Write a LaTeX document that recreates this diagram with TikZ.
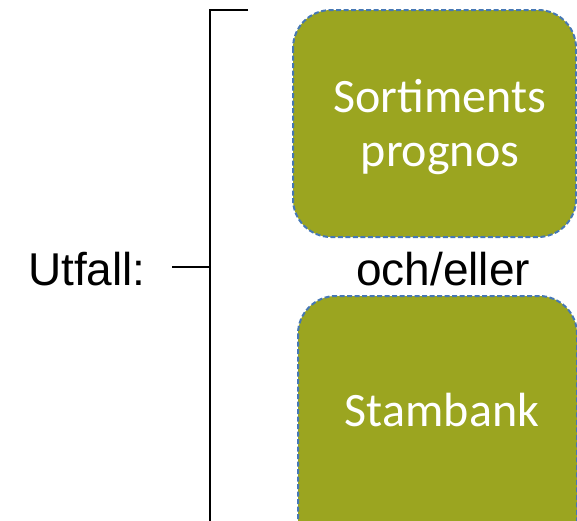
\documentclass[tikz,border=0pt]{standalone}
\usepackage{fontspec}
\setmainfont{Liberation Sans}
\newfontfamily\boxfont{Carlito}
\definecolor{olive}{RGB}{155,165,32}
\definecolor{edgeblue}{RGB}{70,120,180}
\begin{document}
\begin{tikzpicture}[x=1pt,y=-1pt,
  greenbox/.style={draw=edgeblue, fill=olive, line width=2pt,
    dash pattern=on 5pt off 2.5pt, rounded corners=38pt},
  boxtext/.style={font=\boxfont\fontsize{48}{58}\selectfont, text=white,
    align=center, inner sep=0pt},
  plain/.style={font=\fontsize{46}{55}\selectfont, inner sep=0pt},
  bracket/.style={draw=black, line width=1.2pt}]
\useasboundingbox (0,0) rectangle (577,520);
\clip (0,0) rectangle (577,520);
% bracket
\coordinate (btop) at (210,10);
\coordinate (btopr) at (248,10);
\coordinate (bbot) at (210,522);
\coordinate (bmid) at (210,267);
\coordinate (tick) at (172,267);
\draw[bracket] (btopr) -- (btop) -- (bbot);
\draw[bracket] (tick) -- (bmid);
% boxes
\draw[greenbox] (293,10) rectangle (576,237);
\draw[greenbox] (298,296) rectangle (577,560);
% labels
\node[boxtext, anchor=base] (sp) at (440,112) {Sortiments};
\node[boxtext, anchor=base] (sp2) at (440,166) {prognos};
\node[boxtext, anchor=base] (sb) at (442,426) {Stambank};
\node[plain, anchor=base west] (utf) at (28,285) {Utfall:};
\node[plain, anchor=base] (oe) at (443,285) {och/eller};
\end{tikzpicture}
\end{document}
